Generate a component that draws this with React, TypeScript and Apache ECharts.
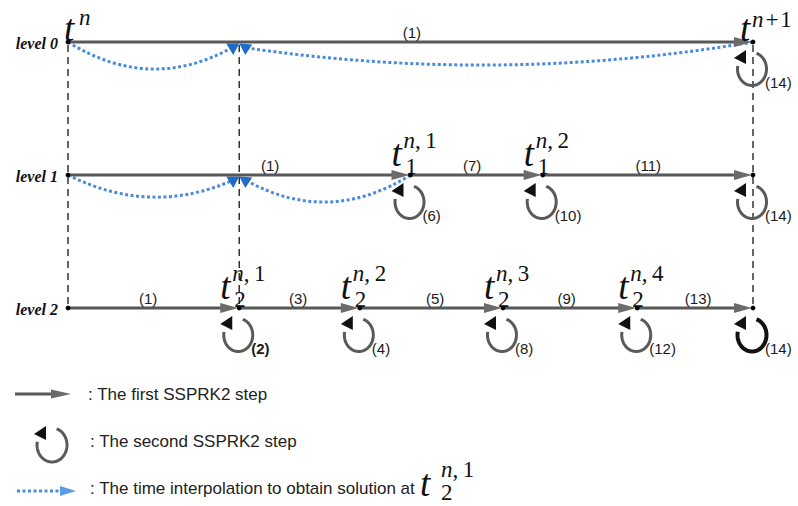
import React, { useEffect, useRef } from "react";
import * as echarts from "echarts";

// ---- data (time positions are fractions of the coarse step, levels 0..2) ----
const LEVEL_NAMES = ["level 0", "level 1", "level 2"];
const LEVEL_INDEX = [0, 1, 2];

// all node times per level
const NODES_LEVEL0 = [0, 1];
const NODES_LEVEL1 = [0, 0.5, 0.693, 1];
const NODES_LEVEL2 = [0, 0.25, 0.426, 0.635, 0.831, 1];

// node labels: [time, level, subscript, superscript]
const NODE_LABELS: [number, number, string, string][] = [
  [0, 0, "", "n"],
  [1, 0, "", "n+1"],
  [0.5, 1, "1", "n,1"],
  [0.693, 1, "1", "n,2"],
  [0.25, 2, "2", "n,1"],
  [0.426, 2, "2", "n,2"],
  [0.635, 2, "2", "n,3"],
  [0.831, 2, "2", "n,4"],
];

// first SSPRK2 step arrows: [from, to, level, label, label time]
const STEPS: [number, number, number, string, number][] = [
  [0, 1, 0, "(1)", 0.502],
  [0, 0.5, 1, "(1)", 0.295],
  [0.5, 0.693, 1, "(7)", 0.59],
  [0.693, 1, 1, "(11)", 0.847],
  [0, 0.25, 2, "(1)", 0.117],
  [0.25, 0.426, 2, "(3)", 0.336],
  [0.426, 0.635, 2, "(5)", 0.536],
  [0.635, 0.831, 2, "(9)", 0.728],
  [0.831, 1, 2, "(13)", 0.92],
];

// second SSPRK2 step loops: [time, level, label]
const LOOPS: [number, number, string][] = [
  [1, 0, "(14)"],
  [0.5, 1, "(6)"],
  [0.693, 1, "(10)"],
  [1, 1, "(14)"],
  [0.25, 2, "(2)"],
  [0.426, 2, "(4)"],
  [0.635, 2, "(8)"],
  [0.831, 2, "(12)"],
  [1, 2, "(14)"],
];

// time interpolation curves: [from, to, level, sag (in level units)]
const INTERPOLATIONS: [number, number, number, number][] = [
  [0, 0.25, 0, 0.18],
  [1, 0.25, 0, 0.15],
  [0, 0.25, 1, 0.143],
  [0.5, 0.25, 1, 0.18],
];

// vertical dashed guides: [time, from level, to level]
const VERTICALS: [number, number, number][] = [
  [0, 0, 2],
  [0.25, 0, 2],
  [1, 0, 2],
];

const LEGEND_TEXTS = [
  ": The first SSPRK2 step",
  ": The second SSPRK2 step",
  ": The time interpolation to obtain solution at ",
];

// ---- styling helpers ----
const SERIF = "Liberation Serif";
const SANS = "Liberation Sans";
const GRAY_LINE = "#585858";
const GRAY_HEAD = "#6b6b6b";
const BLUE_DOT = "#4a8bdb";
const BLUE_HEAD = "#1e6cc8";

function txt(
  text: string,
  x: number,
  baseline: number,
  size: number,
  opts: { italic?: boolean; bold?: boolean; align?: string; family?: string; color?: string } = {}
) {
  const align = opts.align || "left";
  return {
    type: "text",
    x,
    y: baseline - 0.34 * size,
    style: {
      text,
      fontSize: size,
      fontFamily: opts.family || SERIF,
      fontStyle: opts.italic ? "italic" : "normal",
      fontWeight: opts.bold ? "bold" : "normal",
      fill: opts.color || "#111",
      align,
      verticalAlign: "middle",
      textAlign: align,
      textVerticalAlign: "middle",
    },
  };
}

function mathEls(
  tx: number,
  tb: number,
  sup: string,
  supX: number,
  supB: number,
  sub: string,
  subX: number,
  subB: number
) {
  const els: any[] = [txt("t", tx, tb, 37, { italic: true })];
  els.push(txt(sup[0], supX, supB, 23, { italic: true }));
  const rest = sup.slice(1).replace(",", ",\u2009").replace("+", "\u200a+\u200a");
  if (rest) els.push(txt(rest, supX + 11.5, supB, 23));
  if (sub) els.push(txt(sub, subX, subB, 23));
  return els;
}

function loopEls(cx: number, cy: number, rx: number, ry: number, stroke: string, lw: number) {
  const pts: number[][] = [];
  const n = 48;
  for (let i = 0; i <= n; i++) {
    const a = ((191 - (263 * i) / n) * Math.PI) / 180;
    pts.push([cx + rx * Math.cos(a), cy + ry * Math.sin(a)]);
  }
  return [
    { type: "polyline", shape: { points: pts }, style: { stroke, lineWidth: lw, fill: null } },
    {
      type: "polygon",
      shape: { points: [[cx - 18, cy - 11], [cx - 6, cy - 19], [cx - 6, cy - 5]] },
      style: { fill: "#111" },
    },
  ];
}

export default function App() {
  const ref = useRef<HTMLDivElement>(null);

  useEffect(() => {
    document.body.style.margin = "0";
    if (!ref.current) return;
    const chart = echarts.init(ref.current, null, { renderer: "svg" });

    const allNodes: number[][] = [
      ...NODES_LEVEL0.map((t) => [t, 0]),
      ...NODES_LEVEL1.map((t) => [t, 1]),
      ...NODES_LEVEL2.map((t) => [t, 2]),
    ];

    const option: any = {
      animation: false,
      backgroundColor: "#ffffff",
      grid: { left: 68, right: 45, top: 42, bottom: 198, containLabel: false },
      xAxis: { type: "value", min: 0, max: 1, show: false },
      yAxis: { type: "value", min: 0, max: 2, inverse: true, show: false },
      series: [
        {
          type: "custom",
          name: "guides",
          clip: false,
          data: VERTICALS.map((v) => [v[0], v[1]]),
          renderItem: (params: any, api: any) => {
            const [t, l0, l1] = VERTICALS[params.dataIndex];
            const a = api.coord([t, l0]);
            const b = api.coord([t, l1]);
            return {
              type: "line",
              shape: { x1: a[0], y1: a[1] + 3, x2: b[0], y2: b[1] },
              style: { stroke: "#333", lineWidth: 1.5, lineDash: [7, 5] },
            };
          },
        },
        {
          type: "custom",
          name: "interpolation",
          clip: false,
          data: INTERPOLATIONS.map((v) => [v[0], v[2]]),
          renderItem: (params: any, api: any) => {
            const [from, to, lvl, sag] = INTERPOLATIONS[params.dataIndex];
            const p0 = api.coord([from, lvl]);
            const p1 = api.coord([to, lvl]);
            const lvlPx = Math.abs(api.coord([0, 1])[1] - api.coord([0, 0])[1]);
            const dir = Math.sign(p1[0] - p0[0]);
            const end = [p1[0] - dir * 8, p1[1] + 6];
            const ctrl = [(p0[0] + end[0]) / 2, (p0[1] + end[1]) / 2 + 2 * sag * lvlPx];
            const x = p1[0];
            const y = p1[1];
            const tri =
              dir > 0
                ? [[x - 13, y + 1.5], [x, y + 1.5], [x - 6, y + 13]]
                : [[x, y + 1.5], [x + 13, y + 2.5], [x + 6, y + 13]];
            return {
              type: "group",
              children: [
                {
                  type: "bezierCurve",
                  shape: { x1: p0[0], y1: p0[1], x2: end[0], y2: end[1], cpx1: ctrl[0], cpy1: ctrl[1] },
                  style: { stroke: BLUE_DOT, lineWidth: 3, lineDash: [3, 2.5], fill: null },
                },
                { type: "polygon", shape: { points: tri }, style: { fill: BLUE_HEAD } },
              ],
            };
          },
        },
        {
          type: "custom",
          name: "first step",
          clip: false,
          data: STEPS.map((s) => [s[0], s[2]]),
          renderItem: (params: any, api: any) => {
            const [from, to, lvl, label, at] = STEPS[params.dataIndex];
            const p0 = api.coord([from, lvl]);
            const p1 = api.coord([to, lvl]);
            const lp = api.coord([at, lvl]);
            const tip = p1[0] - 1;
            const y = p1[1];
            return {
              type: "group",
              children: [
                {
                  type: "line",
                  shape: { x1: p0[0], y1: y, x2: tip - 10, y2: y },
                  style: { stroke: GRAY_LINE, lineWidth: 3 },
                },
                {
                  type: "polygon",
                  shape: { points: [[tip, y], [tip - 18, y - 5], [tip - 18, y + 5]] },
                  style: { fill: GRAY_HEAD },
                },
                txt(label, lp[0], lp[1] - 10 + 0.34 * 15, 15, { family: SANS, align: "center", color: "#1a1a1a" }),
              ],
            };
          },
        },
        {
          type: "custom",
          name: "second step",
          clip: false,
          data: LOOPS.map((s) => [s[0], s[1]]),
          renderItem: (params: any, api: any) => {
            const [t, lvl, label] = LOOPS[params.dataIndex];
            const p = api.coord([t, lvl]);
            const final = lvl === 2 && t === 1;
            const els: any[] = loopEls(p[0] - 1, p[1] + 27, 14.5, 16.5, final ? "#111" : "#5a5a5a", final ? 4 : 3);
            els.push(
              txt(label, p[0] + 12, p[1] + 40 + 0.34 * 15, 15, {
                family: SANS,
                bold: label === "(2)",
                color: "#1a1a1a",
              })
            );
            return { type: "group", children: els };
          },
        },
        {
          type: "custom",
          name: "nodes",
          clip: false,
          data: allNodes,
          renderItem: (params: any, api: any) => {
            const p = api.coord([api.value(0), api.value(1)]);
            return { type: "circle", shape: { cx: p[0], cy: p[1], r: 2.4 }, style: { fill: "#000" } };
          },
        },
        {
          type: "custom",
          name: "node labels",
          clip: false,
          data: NODE_LABELS.map((s) => [s[0], s[1]]),
          renderItem: (params: any, api: any) => {
            const [t, lvl, sub, sup] = NODE_LABELS[params.dataIndex];
            const [x, y] = api.coord([t, lvl]);
            let els: any[];
            if (sub) {
              els = mathEls(x - 19, y - 9, sup, x - 7, y - 27, sub, x - 5, y - 1);
            } else if (t === 0) {
              els = mathEls(x - 4, y - 1, sup, x + 11, y - 17, "", 0, 0);
            } else {
              els = mathEls(x - 13, y - 1, sup, x - 1, y - 15, "", 0, 0);
            }
            return { type: "group", children: els };
          },
        },
        {
          type: "custom",
          name: "levels",
          clip: false,
          data: LEVEL_INDEX.map((l) => [0, l]),
          renderItem: (params: any, api: any) => {
            const p = api.coord([0, LEVEL_INDEX[params.dataIndex]]);
            return txt(LEVEL_NAMES[params.dataIndex], p[0] - 10, p[1] + 1 + 0.34 * 16, 16, {
              italic: true,
              bold: true,
              align: "right",
            });
          },
        },
      ],
      graphic: [
        // legend row 1: first step arrow
        { type: "line", shape: { x1: 15, y1: 394, x2: 58, y2: 394 }, style: { stroke: GRAY_LINE, lineWidth: 3 } },
        { type: "polygon", shape: { points: [[71, 394], [51, 389.5], [51, 398.5]] }, style: { fill: GRAY_HEAD } },
        txt(LEGEND_TEXTS[0], 88, 400, 17, { family: SANS, color: "#222" }),
        // legend row 2: loop
        ...loopEls(52, 445, 15, 17, "#5a5a5a", 3),
        txt(LEGEND_TEXTS[1], 90, 447, 17, { family: SANS, color: "#222" }),
        // legend row 3: dotted interpolation arrow
        {
          type: "line",
          shape: { x1: 17, y1: 491, x2: 61, y2: 491 },
          style: { stroke: BLUE_DOT, lineWidth: 3, lineDash: [3, 2.5] },
        },
        { type: "polygon", shape: { points: [[76, 491], [60, 486], [60, 496]] }, style: { fill: "#5b9be3" } },
        txt(LEGEND_TEXTS[2], 90, 494, 17, { family: SANS, color: "#222" }),
        ...mathEls(420, 496, "n,1", 441, 477, "2", 441, 500),
      ],
    };

    chart.setOption(option);
    return () => chart.dispose();
  }, []);

  return <div ref={ref} style={{ width: 798, height: 506 }} />;
}
